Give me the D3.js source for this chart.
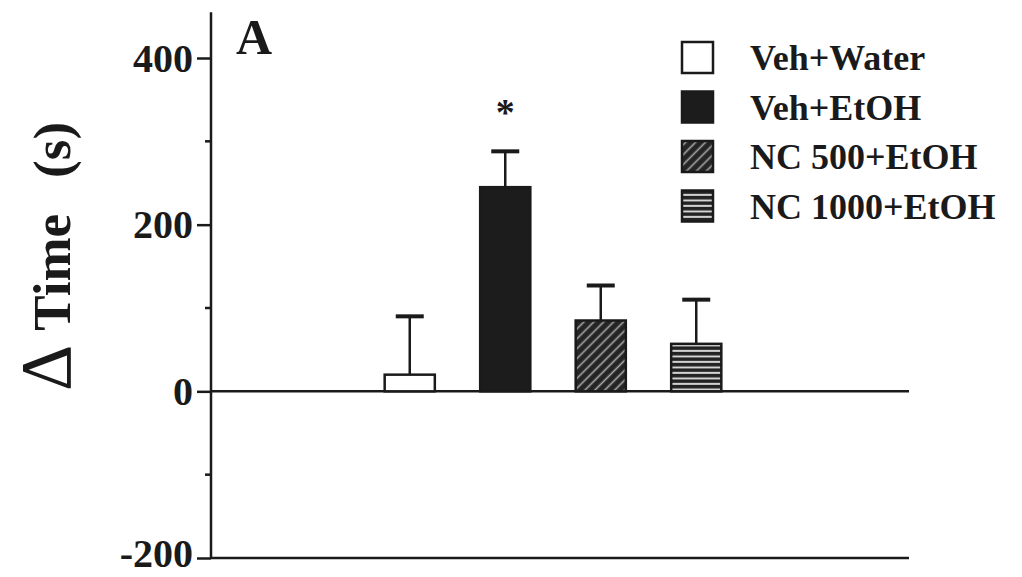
<!DOCTYPE html>
<html>
<head>
<meta charset="utf-8">
<script src="https://cdn.jsdelivr.net/npm/d3@7"></script>
<style>
  body { margin: 0; background: #fff; }
  svg text { font-family: "Liberation Serif", "Times New Roman", serif; font-weight: bold; fill: #1a1a1a; }
</style>
</head>
<body>
<div id="plot"></div>
<script>
const groups = ['Veh+Water', 'Veh+EtOH', 'NC 500+EtOH', 'NC 1000+EtOH']
const means = [20, 245, 85, 57]
const sems = [70, 43, 42, 53]
const yTicks = [-200, 0, 200, 400]
const yMinor = [-100, 100, 300]
const fills = ['#fff', '#1c1c1c', 'url(#hatch)', 'url(#stripes)']

const width = 1022, height = 577
const ink = '#1a1a1a'

const svg = d3.select('#plot').append('svg')
  .attr('width', width)
  .attr('height', height)

// patterns
const defs = svg.append('defs')
const hatch = defs.append('pattern')
  .attr('id', 'hatch')
  .attr('patternUnits', 'userSpaceOnUse')
  .attr('width', 8).attr('height', 7)
  .attr('patternTransform', 'rotate(-45)')
hatch.append('rect').attr('width', 8).attr('height', 7).attr('fill', '#242424')
hatch.append('line')
  .attr('x1', 0).attr('y1', 3.5).attr('x2', 8).attr('y2', 3.5)
  .attr('stroke', '#a8a8a8').attr('stroke-width', 1.6)

const stripes = defs.append('pattern')
  .attr('id', 'stripes')
  .attr('patternUnits', 'userSpaceOnUse')
  .attr('width', 10).attr('height', 5.5)
stripes.append('rect').attr('width', 10).attr('height', 5.5).attr('fill', '#222')
stripes.append('rect').attr('y', 3.5).attr('width', 10).attr('height', 1.8).attr('fill', '#e6e6e6')

// scales
const yScale = d3.scaleLinear()
  .domain([-200, 400])
  .range([558, 58])
const xScale = d3.scaleBand()
  .domain(groups)
  .range([362, 744])
  .paddingInner(0.475)
  .paddingOuter(0.2375)

const axisX = 211

//yaxis
const yaxis = svg.append('g')
  .attr('transform', `translate(${axisX},0)`)
  .call(d3.axisLeft(yScale).tickValues(yTicks).tickSize(14).tickPadding(4).tickFormat(d => String(d)))
  .call(g => g.select('.domain').remove())
  .call(g => g.selectAll('.tick line').attr('stroke', ink).attr('stroke-width', 2.5))
  .call(g => g.selectAll('.tick text')
    .attr('font-size', 40)
    .attr('dy', d => d === -200 ? '0.2em' : '0.33em')
    .attr('fill', ink))
yaxis.append('line')
  .attr('y1', yScale(455)).attr('y2', yScale(-200) + 1)
  .attr('stroke', ink).attr('stroke-width', 2.5)
yaxis.selectAll('.minor')
  .data(yMinor)
  .enter()
  .append('line')
  .attr('x1', -6).attr('x2', 0)
  .attr('y1', d => yScale(d)).attr('y2', d => yScale(d))
  .attr('stroke', ink).attr('stroke-width', 2.5)

// zero line and bottom line
svg.append('line')
  .attr('x1', axisX).attr('x2', 909)
  .attr('y1', yScale(0)).attr('y2', yScale(0))
  .attr('stroke', ink).attr('stroke-width', 2.5)
svg.append('line')
  .attr('x1', axisX).attr('x2', 909)
  .attr('y1', yScale(-200)).attr('y2', yScale(-200))
  .attr('stroke', ink).attr('stroke-width', 2.5)

// bars
const g = svg.append('g')
const bw = xScale.bandwidth()
g.selectAll('rect.bar')
  .data(groups)
  .enter()
  .append('rect')
  .attr('class', 'bar')
  .attr('x', d => xScale(d))
  .attr('y', (d, i) => yScale(means[i]))
  .attr('width', bw)
  .attr('height', (d, i) => yScale(0) - yScale(means[i]))
  .attr('fill', (d, i) => fills[i])
  .attr('stroke', ink)
  .attr('stroke-width', 2.5)

// error bars (upper only)
const capW = 28
const err = g.selectAll('g.err')
  .data(groups)
  .enter()
  .append('g')
  .attr('class', 'err')
  .attr('stroke', ink)
  .attr('stroke-width', 2.5)
err.append('line')
  .attr('x1', d => xScale(d) + bw / 2).attr('x2', d => xScale(d) + bw / 2)
  .attr('y1', (d, i) => yScale(means[i])).attr('y2', (d, i) => yScale(means[i] + sems[i]))
err.append('line')
  .attr('stroke-width', 4)
  .attr('x1', d => xScale(d) + bw / 2 - capW / 2).attr('x2', d => xScale(d) + bw / 2 + capW / 2)
  .attr('y1', (d, i) => yScale(means[i] + sems[i])).attr('y2', (d, i) => yScale(means[i] + sems[i]))

// significance star
svg.append('text')
  .attr('x', xScale(groups[1]) + bw / 2)
  .attr('y', yScale(means[1] + sems[1]) - 26)
  .attr('text-anchor', 'middle')
  .attr('font-size', 38)
  .text('*')

// panel letter
svg.append('text')
  .attr('x', 236).attr('y', 54)
  .attr('font-size', 50)
  .text('A')

// y title
const title = svg.append('text')
  .attr('transform', `translate(70,391) rotate(-90)`)
title.append('tspan')
  .attr('font-size', 72)
  .attr('font-weight', 'normal')
  .text('Δ')
title.append('tspan')
  .attr('dx', 14)
  .attr('font-size', 53)
  .text('Time')
title.append('tspan')
  .attr('dx', 36)
  .attr('font-size', 53)
  .text('(s)')

// legend
const legend = svg.append('g')
  .selectAll('g')
  .data(groups)
  .enter()
  .append('g')
  .attr('transform', (d, i) => `translate(682,${42 + i * 49.5})`)
legend.append('rect')
  .attr('width', 31).attr('height', 31)
  .attr('fill', (d, i) => fills[i])
  .attr('stroke', ink)
  .attr('stroke-width', 2.5)
legend.append('text')
  .attr('x', 68).attr('y', 28)
  .attr('font-size', 36)
  .text(d => d)
</script>
</body>
</html>
